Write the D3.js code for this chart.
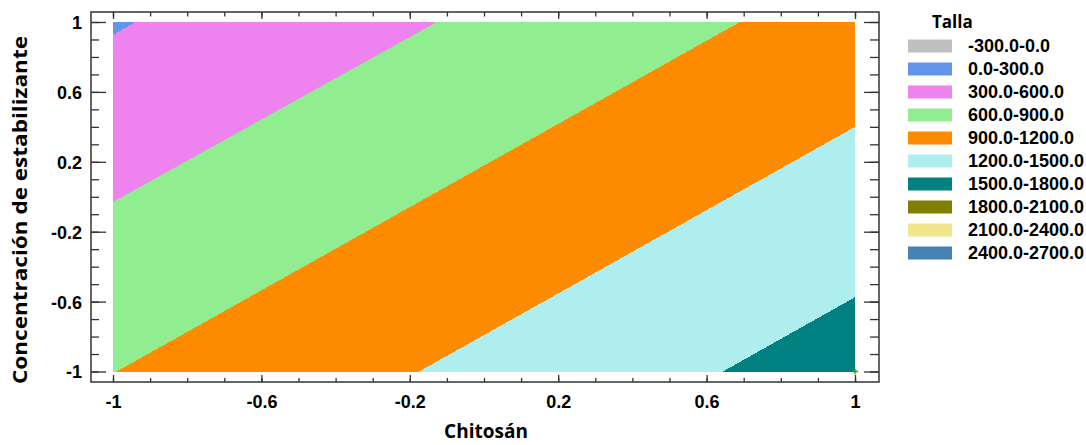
<!DOCTYPE html>
<html>
<head>
<meta charset="utf-8">
<script src="https://cdn.jsdelivr.net/npm/d3@7"></script>
<style>
  body { margin: 0; background: #fff; }
  text { font-family: "Liberation Sans", Arial, sans-serif; font-weight: bold; fill: #000; }
  .title { font-family: "Open Sans", "Noto Sans", sans-serif; }
</style>
</head>
<body>
<div class="container"></div>
<script>
const WIDTH = 1086;
const HEIGHT = 445;

// band table (legend)
const bandLabels = ["-300.0-0.0", "0.0-300.0", "300.0-600.0", "600.0-900.0", "900.0-1200.0",
  "1200.0-1500.0", "1500.0-1800.0", "1800.0-2100.0", "2100.0-2400.0", "2400.0-2700.0"];
const bandLow = [-300, 0, 300, 600, 900, 1200, 1500, 1800, 2100, 2400];
const bandColors = ["#c0c0c0", "#6495ed", "#ee82ee", "#90ee90", "#ff8c00",
  "#afeeee", "#008080", "#808000", "#f0e68c", "#4682b4"];

// contour lines: where each level crosses the plot edges
const contourLevels = [300, 600, 900, 1200, 1500];
const contourFrom = [[-0.94, 1], [-1, -0.03], [-0.99, -1], [-0.175, -1], [0.644, -1]];
const contourTo = [[-1, 0.925], [-0.127, 1], [0.69, 1], [1, 0.40], [1, -0.575]];
const lowCorner = [-1, 1];   // smallest response here (band 0.0-300.0)

// design point marker
const points = [[1, -1]];

const xTicks = [-1, -0.6, -0.2, 0.2, 0.6, 1];
const yTicks = [-1, -0.6, -0.2, 0.2, 0.6, 1];
const minorTicks = d3.range(-10, 11).map(i => i / 10);

var frame = {left: 91, top: 12, right: 879, bottom: 382};

var xScale = d3.scaleLinear().domain([-1, 1]).range([113, 855]);
var yScale = d3.scaleLinear().domain([-1, 1]).range([371.5, 22]);

// keep part of polygon on the high side of line a-b
var clipHalf = function(poly, a, b, sign){
  var side = function(p){
    return sign * ((b[0]-a[0])*(p[1]-a[1]) - (b[1]-a[1])*(p[0]-a[0]));
  };
  var out = [];
  for (var i = 0; i < poly.length; i++){
    var p = poly[i], q = poly[(i+1) % poly.length];
    var sp = side(p), sq = side(q);
    if (sp >= 0) out.push(p);
    if ((sp >= 0) !== (sq >= 0)){
      var t = sp / (sp - sq);
      out.push([p[0] + t*(q[0]-p[0]), p[1] + t*(q[1]-p[1])]);
    }
  }
  return out;
};

var bandOf = function(v){ return bandLow.indexOf(v); };

var load = function(){
  var svg = d3.select(".container").append("svg")
    .attr("width", WIDTH)
    .attr("height", HEIGHT);

  var rect = [[-1,-1],[1,-1],[1,1],[-1,1]];
  var toPath = function(poly){
    return "M" + poly.map(function(p){ return xScale(p[0]) + "," + yScale(p[1]); }).join("L") + "Z";
  };

  var bands = svg.append("g").attr("shape-rendering", "crispEdges");

  // base colour = band at the low corner
  bands.append("path")
    .attr("d", toPath(rect))
    .attr("fill", bandColors[bandOf(contourLevels[0]) - 1]);

  contourLevels.forEach(function(level, i){
    var a = contourFrom[i], b = contourTo[i];
    var s = (b[0]-a[0])*(lowCorner[1]-a[1]) - (b[1]-a[1])*(lowCorner[0]-a[0]);
    var poly = clipHalf(rect, a, b, s > 0 ? -1 : 1);
    if (poly.length < 3) return;
    bands.append("path")
      .attr("d", toPath(poly))
      .attr("fill", bandColors[bandOf(level)]);
  });

  // frame
  svg.append("rect")
    .attr("x", frame.left).attr("y", frame.top)
    .attr("width", frame.right - frame.left)
    .attr("height", frame.bottom - frame.top)
    .attr("fill", "none")
    .attr("stroke", "#333")
    .attr("stroke-width", 1.5);

  var tickStyle = function(g){
    g.select(".domain").remove();
    g.selectAll(".tick line").attr("stroke", "#333").attr("stroke-width", 1.3);
  };

  // minor ticks, all four sides
  svg.append("g").attr("transform", "translate(0," + frame.bottom + ")")
    .call(d3.axisBottom(xScale).tickValues(minorTicks).tickSize(-4).tickFormat(""))
    .call(tickStyle);
  svg.append("g").attr("transform", "translate(0," + frame.top + ")")
    .call(d3.axisTop(xScale).tickValues(minorTicks).tickSize(-4.5).tickFormat(""))
    .call(tickStyle);
  svg.append("g").attr("transform", "translate(" + frame.left + ",0)")
    .call(d3.axisLeft(yScale).tickValues(minorTicks).tickSize(-8).tickFormat(""))
    .call(tickStyle);
  svg.append("g").attr("transform", "translate(" + frame.right + ",0)")
    .call(d3.axisRight(yScale).tickValues(minorTicks).tickSize(-9).tickFormat(""))
    .call(tickStyle);

  // major ticks
  var xAxis = svg.append("g").attr("transform", "translate(0," + frame.bottom + ")")
    .call(d3.axisBottom(xScale).tickValues(xTicks).tickSize(-7).tickFormat(function(d){ return d; }))
    .call(tickStyle);
  xAxis.selectAll(".tick text")
    .attr("y", 26).attr("dy", null)
    .style("font-size", "18px").attr("font-size", null).attr("font-family", null);

  svg.append("g").attr("transform", "translate(0," + frame.top + ")")
    .call(d3.axisTop(xScale).tickValues(xTicks).tickSize(-7).tickFormat(""))
    .call(tickStyle);

  var yAxis = svg.append("g").attr("transform", "translate(" + frame.left + ",0)")
    .call(d3.axisLeft(yScale).tickValues(yTicks).tickSize(-15).tickFormat(function(d){ return d; }))
    .call(tickStyle);
  yAxis.selectAll(".tick text")
    .attr("x", -9).attr("dy", "0.36em")
    .style("font-size", "18px").attr("font-size", null).attr("font-family", null);

  svg.append("g").attr("transform", "translate(" + frame.right + ",0)")
    .call(d3.axisRight(yScale).tickValues(yTicks).tickSize(-15).tickFormat(""))
    .call(tickStyle);

  // design points
  svg.append("g").selectAll("path").data(points).enter()
    .append("path")
    .attr("d", function(d){
      var px = xScale(d[0]), py = yScale(d[1]);
      return "M" + (px-3) + "," + py + "H" + (px+3) + "M" + px + "," + (py-3) + "V" + (py+3);
    })
    .attr("stroke", "#1aa01a").attr("stroke-width", 1.3);

  // axis titles
  svg.append("text").attr("class", "title")
    .attr("x", 486).attr("y", 438)
    .attr("text-anchor", "middle")
    .style("font-size", "19px")
    .text("Chitosán");

  svg.append("text").attr("class", "title")
    .attr("transform", "translate(27,210) rotate(-90)")
    .attr("text-anchor", "middle")
    .attr("textLength", 348)
    .attr("lengthAdjust", "spacingAndGlyphs")
    .style("font-size", "20px")
    .text("Concentración de estabilizante");

  // legend
  var legend = svg.append("g").attr("transform", "translate(908,0)");
  legend.append("text").attr("class", "title")
    .attr("x", 24).attr("y", 28)
    .style("font-size", "17px")
    .text("Talla");

  var items = legend.selectAll(".item").data(bandLabels).enter()
    .append("g").attr("class", "item")
    .attr("transform", function(d, i){ return "translate(0," + (46 + i*23) + ")"; });
  items.append("rect")
    .attr("x", 0).attr("y", -6.5).attr("width", 44).attr("height", 13)
    .attr("fill", function(d, i){ return bandColors[i]; });
  items.append("text")
    .attr("x", 60).attr("dy", "0.36em")
    .style("font-size", "18px")
    .text(function(d){ return d; });
};

window.onload = load;
</script>
</body>
</html>
